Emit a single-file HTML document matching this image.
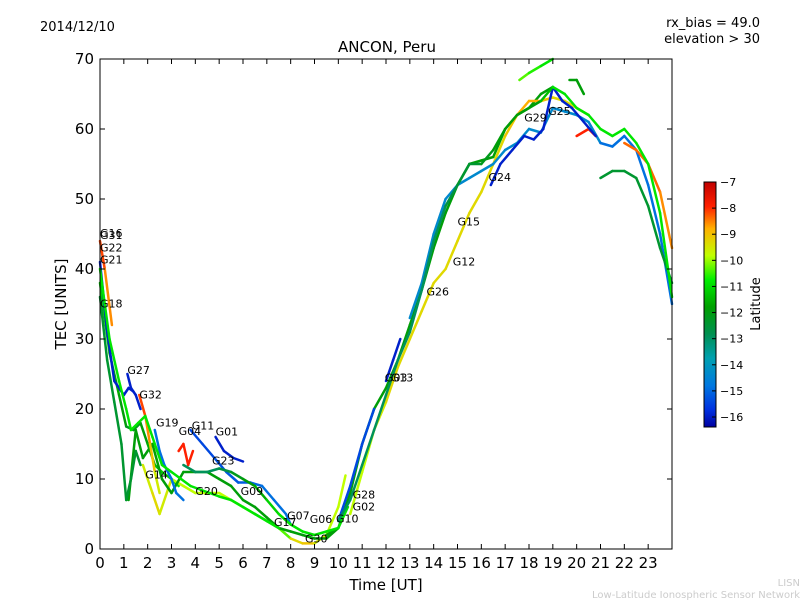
<!DOCTYPE html>
<html><head><meta charset="utf-8"><style>
body{margin:0;background:#fff;}
svg{display:block;font-family:"DejaVu Sans","Liberation Sans",sans-serif;}
</style></head><body>
<svg id="chart" width="800" height="600" viewBox="0 0 800 600">
<defs><linearGradient id="jet" x1="0" y1="1" x2="0" y2="0">
<stop offset="0" stop-color="#0000a0"/><stop offset="0.07" stop-color="#0030e0"/><stop offset="0.17" stop-color="#0078e0"/>
<stop offset="0.28" stop-color="#00a0b0"/><stop offset="0.38" stop-color="#009050"/><stop offset="0.49" stop-color="#00a000"/>
<stop offset="0.6" stop-color="#00ee00"/><stop offset="0.7" stop-color="#c0ff00"/><stop offset="0.81" stop-color="#ffb000"/>
<stop offset="0.9" stop-color="#ff2000"/><stop offset="1" stop-color="#c00000"/>
</linearGradient></defs>
<text x="40" y="31" font-size="13">2014/12/10</text>
<text x="760" y="27" font-size="13" text-anchor="end">rx_bias = 49.0</text>
<text x="760" y="43" font-size="13" text-anchor="end">elevation &gt; 30</text>
<text x="387" y="52" font-size="15" text-anchor="middle">ANCON, Peru</text>
<text x="386" y="590" font-size="15" text-anchor="middle">Time [UT]</text>
<text transform="translate(66,304) rotate(-90)" font-size="15" text-anchor="middle">TEC [UNITS]</text>
<text x="800" y="586" font-size="10" fill="#ccc" text-anchor="end">LISN</text>
<text x="800" y="598" font-size="10" fill="#ccc" text-anchor="end">Low-Latitude Ionospheric Sensor Network</text>
<g id="tracks"></g>
<g id="labels"></g>
<rect x="100" y="59" width="572" height="490" fill="none" stroke="#000"/>
<g id="axes"></g>
<rect x="704" y="182" width="12" height="245" fill="url(#jet)" stroke="#000"/>
<text transform="translate(760,304) rotate(-90)" font-size="13" text-anchor="middle">Latitude</text>
<g id="cbticks"></g>
</svg>
<script>
const xTicks=[0,1,2,3,4,5,6,7,8,9,10,11,12,13,14,15,16,17,18,19,20,21,22,23];
const yTicks=[0,10,20,30,40,50,60,70];
const cbTicks=[-7,-8,-9,-10,-11,-12,-13,-14,-15,-16];
const trackTimes=[
[0,0.4,0.8,1.1,1.4,1.7,2.0,2.3,2.6,3.0,3.3],
[0,0.3,0.6,1.0,1.2,1.4],
[0,0.2,0.5],
[1.8,2.2,2.5,3.0,3.5,4.0,4.5,5,5.5,6,6.5,7,7.5,8,8.5,9,9.5,10,10.3],
[3.8,4.3,4.8,5.3,5.8,6.3,6.8,7.3,7.8,8.0],
[4.85,5.2,5.6,6.0],
[1.2,1.5,1.8,2.2,2.6,3,3.5,4,4.5,5,5.5,6,6.5,7,7.5,8,8.5,9,9.5,10],
[3.3,3.5,3.7,3.9],
[9.5,10,10.5,11,11.5,12,12.5,13,13.5,14,14.5,15,15.5,16,16.5,17,17.5,18,18.5,19],
[10,10.5,11,11.5],
[12,12.3,12.6],
[10.5,11,11.5,12,12.5,13,13.5,14,14.5,15,15.5,16,16.5,17,17.5,18,18.5,19,19.5,20,20.5],
[13,13.5,14,14.5,15,15.5,16,16.5,17,17.5,18,18.5,19,19.5,20,20.5,21],
[17.6,18,18.5,19],
[19.7,20,20.3],
[21,21.5,22,22.5,23,23.5,24],
[21,21.5,22,22.5,23,23.5,24],
[20,20.5,20.8],
[22,22.5,23,23.5,24],
[16.4,16.8,17.3,17.8,18.2,18.6,19,19.4,19.8,20.3,20.8],
[0,0.3,0.6,0.9,1.1,1.3,1.5,1.7],
[1.15,1.3,1.5,1.7],
[1.65,1.9,2.1,2.3,2.5],
[2.3,2.5,2.7,3.0,3.2,3.5],
[3.5,4,4.5,5,5.5,6,6.5,7,7.5,8,8.5,9,9.5,10,10.4],
[0,0.4,0.8,1.1,1.3,1.6,1.9,2.2,2.6,3,3.4,3.8,4.2,4.6,5,5.5,6,6.5,7,7.5],
[10,10.5,11,11.5,12,12.5,13,13.5,14,14.5,15,15.5,16,16.5,17,17.5,18,18.5,19,19.5,20,20.5,21,21.5,22,22.5,23,23.5,24]];
const trackTec=[
[38,28,22,17.5,17,18,15,12,11,10,9],
[41,31,24,22,23,22.5],
[44,40,32],
[12,8,5,10,9,8,8,8,7,6,5,4,3,1.5,0.8,0.8,2,6,10.5],
[17,15,13,11,9.5,9.5,9,7,5,3.5],
[16,14,13,12.5],
[7,17,13,15,10,8,11,11,11,10,9,7,6,4.5,3,2.5,2,1.5,1.5,3],
[14,15,12,14],
[2,3,8,15,20,23,27,32,37,43,48,52,55,55.5,56,60,62,63,65,66],
[4,9,15,20],
[24,27,30],
[5,11,17,21,26,30,34,38,40,44,48,51,55,59,62,64,64,64.5,64,63,62],
[33,38,45,50,52,53,54,55,57,58,60,59.5,63,62.5,62,61,58],
[67,68,69,70],
[67,67,65],
[58,57.5,59,57,52,45,35],
[53,54,54,53,49,43,38],
[59,60,59],
[58,57,55,51,43],
[52,55,57,59,58.5,60,66,64,63,61,59],
[36,27,21,15,7,10,14,12],
[25,23,22,20],
[22,19,15,11,8],
[17,14,12,10,8,7],
[12,11,11,11.5,11,10,9,7,5,3.5,2.5,2,2.5,3,6],
[40,30,24,20,17,18,19,16,12,11,10,9,8.5,8,7.5,7,6,5,4,3],
[4,7,12,17,22,27,31,37,44,49,52,55,55,57,60,62,63,64,66,65,63,62,60,59,60,58,55,48,36]];
const trackLat=[
[-11,-11.5,-12,-12,-12.5,-12,-12,-11.5,-11.5,-11,-11],
[-16,-16,-16,-16,-16,-16],
[-8,-8.5,-9],
[-10,-9.5,-9.5,-10,-10,-10,-10,-10,-10,-10,-10.5,-11,-11,-10,-9,-9.5,-10,-10,-10],
[-15.5,-15.5,-15.5,-15.3,-15.3,-15.2,-15,-15,-15,-15],
[-16,-16,-16,-16],
[-12,-12,-12,-12,-12,-12,-12,-12,-12,-12,-12,-12,-12,-12,-12,-12,-12,-12,-12,-12],
[-8,-8,-8,-8],
[-12,-12,-12,-12,-12,-12,-12,-12,-12,-12,-12,-12,-12,-12,-12,-12,-12,-12,-12,-12],
[-15.5,-15.5,-15.5,-15.5],
[-16,-16,-16],
[-10,-10,-10,-9.5,-9.5,-9.5,-9.5,-9.5,-9.5,-9.5,-9.5,-9.5,-9.5,-9.5,-9,-9,-9,-9.5,-9.5,-9.5,-9.5],
[-14.5,-14.5,-14.5,-14.5,-14.5,-14.5,-14.5,-14.5,-14.5,-14.5,-14.5,-14.5,-14.5,-14.5,-14.5,-14.5,-14.5],
[-10.5,-10.5,-11,-11],
[-12,-12,-12],
[-15,-15,-15,-15,-15,-15,-15],
[-12.5,-12.5,-12.5,-12.5,-12.5,-12.5,-12.5],
[-8,-8,-8],
[-8.5,-8.5,-8.5,-8.5,-9],
[-16,-16,-16,-16,-16,-16,-16,-16,-16,-16,-16],
[-12.5,-12.5,-12.5,-12.5,-12.5,-12.5,-12.5,-12.5],
[-16,-16,-16,-16],
[-8,-8.5,-9,-9.5,-10],
[-15,-15,-15,-15,-15,-15],
[-13,-13,-13,-13,-12.5,-12,-12,-11.5,-11,-11,-11,-11,-11,-11,-11],
[-11,-11,-11,-11,-11,-11,-11,-11,-11,-11,-11,-11,-11,-11,-11,-11,-11,-11,-11,-11],
[-13,-13,-13,-13,-13,-13,-13,-13,-13,-13,-12.5,-12.5,-12.5,-12,-12,-12,-12,-12,-11,-11,-11,-11,-11,-11,-11,-11,-11,-11,-11]];
const labelNames=["G16","G31","G22","G21","G18","G27","G32","G19","G04","G11","G01","G23","G14","G20","G09","G07","G17","G06","G10","G30","G28","G02","G03","G13","G26","G15","G12","G24","G29","G25"];
const labelTimes=[0,0,0,0,0,1.15,1.65,2.35,3.3,3.85,4.85,4.7,1.9,4.0,5.9,7.85,7.3,8.8,9.9,8.6,10.6,10.6,11.95,12.2,13.7,15.0,14.8,16.3,17.8,18.8];
const labelTec=[44.6,44.3,42.5,40.8,34.5,25,21.5,17.5,16.3,17.1,16.2,12.1,10.1,7.7,7.7,4.2,3.3,3.7,3.8,0.9,7.2,5.5,23.9,23.9,36.2,46.2,40.5,52.6,61.1,62.0];

const X0=100,X1=672,Y0=549,Y1=59;
const xs=t=>X0+t*(X1-X0)/24, ys=v=>Y0-v*(Y0-Y1)/70;
const cbY=l=>182+(-7-l)*(417-182)/9;
const NS="http://www.w3.org/2000/svg";
const cmapStops=[[-16.4,[0,0,160]],[-15.8,[0,48,224]],[-14.9,[0,120,224]],[-13.9,[0,160,176]],[-12.9,[0,144,80]],[-11.9,[0,160,0]],[-10.9,[0,238,0]],[-10,[192,255,0]],[-9,[255,176,0]],[-8,[255,32,0]],[-7,[192,0,0]]];
function jet(l){
 if(l<=cmapStops[0][0])return `rgb(${cmapStops[0][1]})`;
 for(let i=0;i<cmapStops.length-1;i++){const a=cmapStops[i],b=cmapStops[i+1];
  if(l<=b[0]){const f=(l-a[0])/(b[0]-a[0]);return `rgb(${a[1].map((c,k)=>Math.round(c+f*(b[1][k]-c))).join(',')})`;}}
 return 'rgb(192,0,0)';}
function mk(tag,attrs,parent){const e=document.createElementNS(NS,tag);for(const k in attrs)e.setAttribute(k,attrs[k]);parent.appendChild(e);return e;}
const tg=document.getElementById('tracks');
trackTimes.forEach((ts,i)=>{
 for(let j=0;j<ts.length-1;j++){
  const seg=mk('line',{x1:xs(ts[j]),y1:ys(trackTec[i][j]),x2:xs(ts[j+1]),y2:ys(trackTec[i][j+1]),stroke:jet((trackLat[i][j]+trackLat[i][j+1])/2),'stroke-width':2.5,'stroke-linecap':'round'},tg);
  
  
 }
});
const lg=document.getElementById('labels');
labelNames.forEach((n,i)=>{
 const t=mk('text',{x:xs(labelTimes[i]),y:ys(labelTec[i]),'font-size':11},lg);
 t.textContent=n;
 
 
});
const ag=document.getElementById('axes');
xTicks.forEach(v=>{
 const x=xs(v);
 mk('line',{x1:x,y1:Y0,x2:x,y2:Y0-5,stroke:'#000'},ag);
 mk('line',{x1:x,y1:Y1,x2:x,y2:Y1+5,stroke:'#000'},ag);
 const t=mk('text',{x:x,y:568,'font-size':15,'text-anchor':'middle'},ag);
 t.textContent=v;
 
 
});
yTicks.forEach(v=>{
 const y=ys(v);
 mk('line',{x1:X0,y1:y,x2:X0+5,y2:y,stroke:'#000'},ag);
 mk('line',{x1:X1,y1:y,x2:X1-5,y2:y,stroke:'#000'},ag);
 const t=mk('text',{x:94,y:y+5,'font-size':15,'text-anchor':'end'},ag);
 t.textContent=v;
 
 
});
const cg=document.getElementById('cbticks');
cbTicks.forEach(v=>{
 const y=cbY(v);
 mk('line',{x1:712,y1:y,x2:716,y2:y,stroke:'#000'},cg);
 const t=mk('text',{x:720,y:y+4,'font-size':11},cg);
 t.textContent='\u2212'+Math.abs(v);
 
 
});
</script>
</body></html>
